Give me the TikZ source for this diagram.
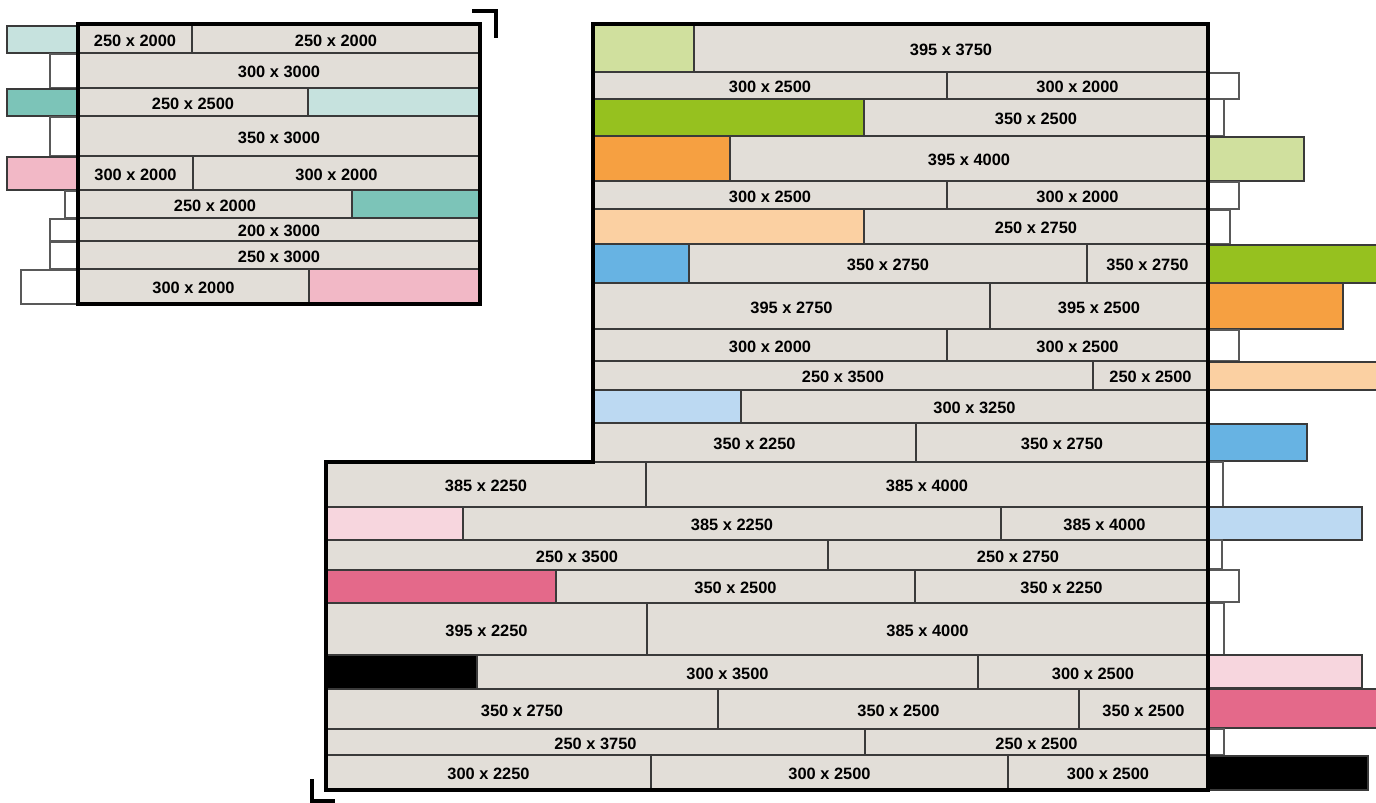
\documentclass[tikz,border=0pt]{standalone}
\usepackage{fontspec}
\setmainfont{Liberation Sans}
\definecolor{slab}{HTML}{E2DED8}
\definecolor{edge}{HTML}{3A3A3A}
\definecolor{mintlt}{HTML}{C6E2DE}
\definecolor{mint}{HTML}{7CC4B8}
\definecolor{rose}{HTML}{F2B8C6}
\definecolor{limelt}{HTML}{D0E09E}
\definecolor{lime}{HTML}{96C11F}
\definecolor{amber}{HTML}{F6A041}
\definecolor{amberlt}{HTML}{FBD0A2}
\definecolor{sky}{HTML}{67B3E3}
\definecolor{skylt}{HTML}{BCD9F2}
\definecolor{blush}{HTML}{F7D6DE}
\definecolor{berry}{HTML}{E4698A}

\begin{document}
\begin{tikzpicture}[
  x=0.5pt, y=-0.5pt,
  cell/.style={fill=slab, draw=edge, line width=0.6pt},
  stub/.style={fill=white, draw=gray!70!black, line width=0.6pt},
  swatch/.style={draw=edge, line width=0.6pt},
  lbl/.style={font=\fontsize{8.2}{9}\selectfont\bfseries, text=black, inner sep=0pt, yshift=-0.9pt},
  outline/.style={draw=black, line width=1.6pt},
  cornermark/.style={draw=black, line width=2pt},
]
\useasboundingbox (0,0) rectangle (1376,803);

% --- West block ---
% row 1
\draw[swatch, fill=mintlt] (7,26) rectangle (78,53);
\draw[cell] (78,25) rectangle node[lbl] (w1a) {250 x 2000} (192,53);
\draw[cell] (192,25) rectangle node[lbl] (w1b) {250 x 2000} (480,53);
% row 2
\draw[stub] (50,54) rectangle (78,88);
\draw[cell] (78,53) rectangle node[lbl] (w2a) {300 x 3000} (480,88);
% row 3
\draw[swatch, fill=mint] (7,89) rectangle (78,116);
\draw[cell] (78,88) rectangle node[lbl] (w3a) {250 x 2500} (308,116);
\draw[cell, fill=mintlt] (308,88) rectangle (480,116);
% row 4
\draw[stub] (50,117) rectangle (78,156);
\draw[cell] (78,116) rectangle node[lbl] (w4a) {350 x 3000} (480,156);
% row 5
\draw[swatch, fill=rose] (7,157) rectangle (78,190);
\draw[cell] (78,156) rectangle node[lbl] (w5a) {300 x 2000} (193,190);
\draw[cell] (193,156) rectangle node[lbl] (w5b) {300 x 2000} (480,190);
% row 6
\draw[stub] (65,191) rectangle (78,218);
\draw[cell] (78,190) rectangle node[lbl] (w6a) {250 x 2000} (352,218);
\draw[cell, fill=mint] (352,190) rectangle (480,218);
% row 7
\draw[stub] (50,219) rectangle (78,241);
\draw[cell] (78,218) rectangle node[lbl] (w7a) {200 x 3000} (480,241);
% row 8
\draw[stub] (50,242) rectangle (78,269);
\draw[cell] (78,241) rectangle node[lbl] (w8a) {250 x 3000} (480,269);
% row 9
\draw[stub] (21,270) rectangle (78,304);
\draw[cell] (78,269) rectangle node[lbl] (w9a) {300 x 2000} (309,304);
\draw[cell, fill=rose] (309,269) rectangle (480,304);

\draw[outline] (78,24) rectangle (480,304);
\draw[cornermark] (472,11) -- (496,11) -- (496,38);

% --- East block, upper part ---
% row 1
\draw[cell, fill=limelt] (593,24) rectangle (694,72);
\draw[cell] (694,24) rectangle node[lbl] (e1a) {395 x 3750} (1208,72);
% row 2
\draw[stub] (1208,73) rectangle (1239,99);
\draw[cell] (593,72) rectangle node[lbl] (e2a) {300 x 2500} (947,99);
\draw[cell] (947,72) rectangle node[lbl] (e2b) {300 x 2000} (1208,99);
% row 3
\draw[stub] (1208,99) rectangle (1224,136);
\draw[cell, fill=lime] (593,99) rectangle (864,136);
\draw[cell] (864,99) rectangle node[lbl] (e3a) {350 x 2500} (1208,136);
% row 4
\draw[swatch, fill=limelt] (1208,137) rectangle (1304,181);
\draw[cell, fill=amber] (593,136) rectangle (730,181);
\draw[cell] (730,136) rectangle node[lbl] (e4a) {395 x 4000} (1208,181);
% row 5
\draw[stub] (1208,182) rectangle (1239,209);
\draw[cell] (593,181) rectangle node[lbl] (e5a) {300 x 2500} (947,209);
\draw[cell] (947,181) rectangle node[lbl] (e5b) {300 x 2000} (1208,209);
% row 6
\draw[stub] (1208,210) rectangle (1230,244);
\draw[cell, fill=amberlt] (593,209) rectangle (864,244);
\draw[cell] (864,209) rectangle node[lbl] (e6a) {250 x 2750} (1208,244);
% row 7
\draw[swatch, fill=lime] (1208,245) rectangle (1380,283);
\draw[cell, fill=sky] (593,244) rectangle (689,283);
\draw[cell] (689,244) rectangle node[lbl] (e7a) {350 x 2750} (1087,283);
\draw[cell] (1087,244) rectangle node[lbl] (e7b) {350 x 2750} (1208,283);
% row 8
\draw[swatch, fill=amber] (1208,283) rectangle (1343,329);
\draw[cell] (593,283) rectangle node[lbl] (e8a) {395 x 2750} (990,329);
\draw[cell] (990,283) rectangle node[lbl] (e8b) {395 x 2500} (1208,329);
% row 9
\draw[stub] (1208,330) rectangle (1239,361);
\draw[cell] (593,329) rectangle node[lbl] (e9a) {300 x 2000} (947,361);
\draw[cell] (947,329) rectangle node[lbl] (e9b) {300 x 2500} (1208,361);
% row 10
\draw[swatch, fill=amberlt] (1208,362) rectangle (1380,390);
\draw[cell] (593,361) rectangle node[lbl] (e10a) {250 x 3500} (1093,390);
\draw[cell] (1093,361) rectangle node[lbl] (e10b) {250 x 2500} (1208,390);
% row 11
\draw[cell, fill=skylt] (593,390) rectangle (741,423);
\draw[cell] (741,390) rectangle node[lbl] (e11a) {300 x 3250} (1208,423);
% row 12
\draw[swatch, fill=sky] (1208,424) rectangle (1307,461);
\draw[cell] (593,423) rectangle node[lbl] (e12a) {350 x 2250} (916,462);
\draw[cell] (916,423) rectangle node[lbl] (e12b) {350 x 2750} (1208,462);

% --- East block, lower part ---
% row 1
\draw[stub] (1208,462) rectangle (1223,507);
\draw[cell] (326,462) rectangle node[lbl] (s1a) {385 x 2250} (646,507);
\draw[cell] (646,462) rectangle node[lbl] (s1b) {385 x 4000} (1208,507);
% row 2
\draw[swatch, fill=skylt] (1208,507) rectangle (1362,540);
\draw[cell, fill=blush] (326,507) rectangle (463,540);
\draw[cell] (463,507) rectangle node[lbl] (s2a) {385 x 2250} (1001,540);
\draw[cell] (1001,507) rectangle node[lbl] (s2b) {385 x 4000} (1208,540);
% row 3
\draw[stub] (1208,540) rectangle (1222,569);
\draw[cell] (326,540) rectangle node[lbl] (s3a) {250 x 3500} (828,570);
\draw[cell] (828,540) rectangle node[lbl] (s3b) {250 x 2750} (1208,570);
% row 4
\draw[stub] (1208,570) rectangle (1239,602);
\draw[cell, fill=berry] (326,570) rectangle (556,603);
\draw[cell] (556,570) rectangle node[lbl] (s4a) {350 x 2500} (915,603);
\draw[cell] (915,570) rectangle node[lbl] (s4b) {350 x 2250} (1208,603);
% row 5
\draw[stub] (1208,603) rectangle (1224,655);
\draw[cell] (326,603) rectangle node[lbl] (s5a) {395 x 2250} (647,655);
\draw[cell] (647,603) rectangle node[lbl] (s5b) {385 x 4000} (1208,655);
% row 6
\draw[swatch, fill=blush] (1208,655) rectangle (1362,688);
\draw[cell, fill=black] (326,655) rectangle (477,689);
\draw[cell] (477,655) rectangle node[lbl] (s6a) {300 x 3500} (978,689);
\draw[cell] (978,655) rectangle node[lbl] (s6b) {300 x 2500} (1208,689);
% row 7
\draw[swatch, fill=berry] (1208,689) rectangle (1380,728);
\draw[cell] (326,689) rectangle node[lbl] (s7a) {350 x 2750} (718,729);
\draw[cell] (718,689) rectangle node[lbl] (s7b) {350 x 2500} (1079,729);
\draw[cell] (1079,689) rectangle node[lbl] (s7c) {350 x 2500} (1208,729);
% row 8
\draw[stub] (1208,729) rectangle (1224,755);
\draw[cell] (326,729) rectangle node[lbl] (s8a) {250 x 3750} (865,755);
\draw[cell] (865,729) rectangle node[lbl] (s8b) {250 x 2500} (1208,755);
% row 9
\draw[swatch, fill=black] (1208,756) rectangle (1368,790);
\draw[cell] (326,755) rectangle node[lbl] (s9a) {300 x 2250} (651,790);
\draw[cell] (651,755) rectangle node[lbl] (s9b) {300 x 2500} (1008,790);
\draw[cell] (1008,755) rectangle node[lbl] (s9c) {300 x 2500} (1208,790);

% outline of the east block
\draw[outline] (593,24) -- (1208,24) -- (1208,790) -- (326,790)
  -- (326,462) -- (593,462) -- cycle;
\draw[cornermark] (312,779) -- (312,801) -- (335,801);

\end{tikzpicture}
\end{document}
